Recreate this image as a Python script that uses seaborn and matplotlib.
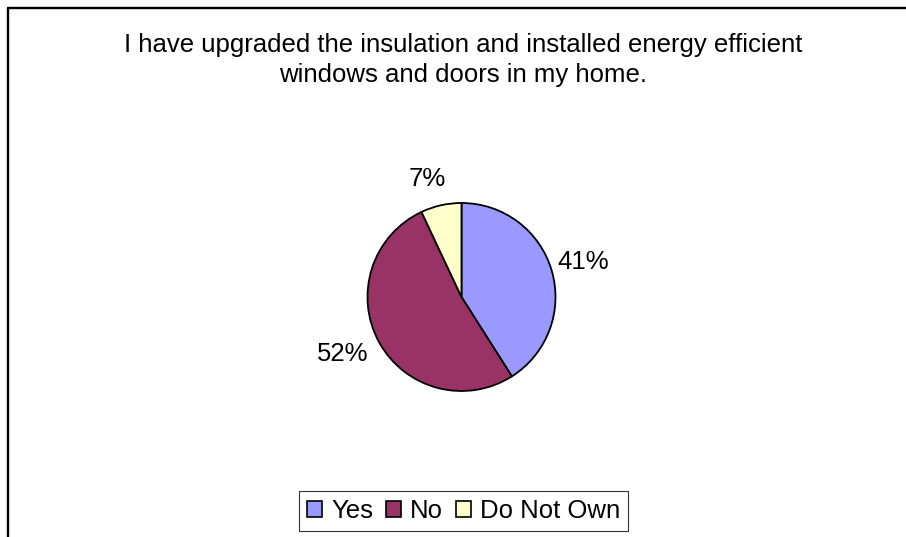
import matplotlib
matplotlib.use("Agg")
import matplotlib.pyplot as plt
import seaborn as sns
from matplotlib.lines import Line2D
from matplotlib.patches import Patch

# Survey answers
categories = ["Yes", "No", "Do Not Own"]
shares = [41, 52, 7]
pct_labels = ["41%", "52%", "7%"]
title = "I have upgraded the insulation and installed energy efficient\nwindows and doors in my home."

colors = ["#9999FF", "#993366", "#FFFFCC"]

sns.set_theme(style="white")
plt.rcParams["font.family"] = ["Liberation Sans", "DejaVu Sans"]
plt.rcParams["text.color"] = "black"

W, H = 906, 537
FS = 18.5
fig = plt.figure(figsize=(W / 100, H / 100), dpi=100)
fig.patch.set_facecolor("white")

# pie axes: centre and radius in pixels
cx, cy, r = 461.5, 297, 94
ax = fig.add_axes([(cx - r) / W, (H - cy - r) / H, 2 * r / W, 2 * r / H])
wedges, texts = ax.pie(
    shares, colors=colors, startangle=90, counterclock=False,
    labels=pct_labels, labeldistance=1.3,
    wedgeprops=dict(edgecolor="black", linewidth=1.3),
    textprops=dict(fontsize=FS, color="black"),
)
# label centres, in pie-radius units
label_offsets = [(1.29, 0.37), (-1.26, -0.61), (-0.36, 1.26)]
for t, (dx, dy) in zip(texts, label_offsets):
    t.set_position((dx, dy))
    t.set_ha("center")
    t.set_va("center")
ax.set_xlim(-1, 1)
ax.set_ylim(-1, 1)
ax.set_aspect("equal")
ax.axis("off")

fig.text(463 / W, 1 - 60 / H, title, ha="center", va="center",
         fontsize=FS, linespacing=1.35, color="black")

handles = [Patch(facecolor=c, edgecolor="black", linewidth=1.2) for c in colors]
leg = fig.legend(handles, categories, loc="center",
                 bbox_to_anchor=(463.5 / W, 1 - 511 / H), ncol=3,
                 fontsize=FS, frameon=True, fancybox=False,
                 handlelength=0.58, handleheight=0.58, handletextpad=0.35,
                 columnspacing=0.5, borderpad=0.33, borderaxespad=0,
                 labelcolor="black")
leg.get_frame().set_edgecolor("black")
leg.get_frame().set_linewidth(0.8)

# chart-area border (top and left)
fig.add_artist(Line2D([8 / W, 1], [1 - 8 / H, 1 - 8 / H], color="black", lw=1.7,
                      transform=fig.transFigure))
fig.add_artist(Line2D([8 / W, 8 / W], [0, 1 - 8 / H], color="black", lw=1.7,
                      transform=fig.transFigure))

fig.savefig("out.png", dpi=100, facecolor="white")
